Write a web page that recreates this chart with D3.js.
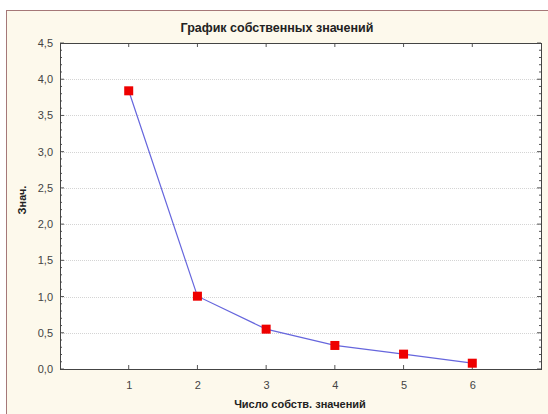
<!DOCTYPE html>
<html>
<head>
<meta charset="utf-8">
<script src="https://cdn.jsdelivr.net/npm/d3@7"></script>
<style>
  body { margin: 0; background: #fff; }
  text { font-family: "Liberation Sans", Arial, sans-serif; }
</style>
</head>
<body>
<svg width="548" height="414"></svg>
<script>
// eigenvalue numbers and values
const factors = [1, 2, 3, 4, 5, 6]
const eigenvalues = [3.84, 1.005, 0.55, 0.325, 0.205, 0.08]
const yTicks = [0, 0.5, 1, 1.5, 2, 2.5, 3, 3.5, 4, 4.5]

const title = 'График собственных значений'
const xTitle = 'Число собств. значений'
const yTitle = 'Знач.'

let svg = d3.select('svg'),
    width = +svg.attr('width'),
    height = +svg.attr('height')

let margin = {left: 60, top: 43, right: 7, bottom: 45}
let pw = width - margin.left - margin.right,
    ph = height - margin.top - margin.bottom

// outer frame
svg.append('rect')
    .attr('x', 6.5).attr('y', 10.5)
    .attr('width', width).attr('height', height)
    .attr('fill', '#fdf9ec')
    .attr('stroke', '#a57878')

let x = d3.scaleLinear().domain([0, 7]).range([0, pw])
let y = d3.scaleLinear().domain([0, 4.5]).range([ph, 0])

let g = svg.append('g').attr('transform', `translate(${margin.left},${margin.top})`)

g.append('rect').attr('width', pw).attr('height', ph).attr('fill', '#fff')

// dotted grid
g.selectAll('.grid').data(yTicks.slice(1, -1)).enter().append('line')
    .attr('x1', 0).attr('x2', pw)
    .attr('y1', d => Math.round(y(d)) + 0.5).attr('y2', d => Math.round(y(d)) + 0.5)
    .attr('stroke', '#d4d4d4')
    .attr('stroke-dasharray', '1,1')

let fmt = d => d3.format('.1f')(d).replace('.', ',')

// left axis: labels + major/minor ticks pointing inward
let yAxis = g.append('g')
yAxis.call(d3.axisLeft(y).tickValues(yTicks).tickFormat(fmt).tickSize(0).tickPadding(7))
yAxis.select('.domain').remove()
yAxis.selectAll('text').attr('font-size', 11).attr('fill', '#444')

let minor = d3.range(0, 4.51, 0.1)
g.selectAll('.ml').data(minor).enter().append('line')
    .attr('x1', 0).attr('x2', (d, i) => i % 5 == 0 ? 4 : 2)
    .attr('y1', d => y(d)).attr('y2', d => y(d))
    .attr('stroke', '#555')
g.selectAll('.mr').data(minor).enter().append('line')
    .attr('x1', pw).attr('x2', (d, i) => pw - (i % 5 == 0 ? 4 : 2))
    .attr('y1', d => y(d)).attr('y2', d => y(d))
    .attr('stroke', '#555')

// bottom axis
let xAxis = g.append('g').attr('transform', `translate(0,${ph})`)
xAxis.call(d3.axisBottom(x).tickValues(factors).tickFormat(d3.format('d')).tickSize(0).tickPadding(12))
xAxis.select('.domain').remove()
xAxis.selectAll('text').attr('font-size', 11).attr('fill', '#444')

g.selectAll('.xt').data(factors).enter().append('line')
    .attr('x1', d => x(d)).attr('x2', d => x(d))
    .attr('y1', ph).attr('y2', ph - 4).attr('stroke', '#555')
g.selectAll('.xtt').data(factors).enter().append('line')
    .attr('x1', d => x(d)).attr('x2', d => x(d))
    .attr('y1', 0).attr('y2', 4).attr('stroke', '#555')

// plot border
g.append('rect').attr('x', 0.5).attr('y', 0.5).attr('width', pw).attr('height', ph)
    .attr('fill', 'none').attr('stroke', '#444')

let pts = factors.map((f, i) => [f, eigenvalues[i]])

g.append('path')
    .datum(pts)
    .attr('d', d3.line().x(d => x(d[0])).y(d => y(d[1])))
    .attr('fill', 'none')
    .attr('stroke', '#6666dd')
    .attr('stroke-width', 1.2)

g.selectAll('.pt').data(pts).enter().append('rect')
    .attr('x', d => x(d[0]) - 4.5).attr('y', d => y(d[1]) - 4.5)
    .attr('width', 9).attr('height', 9)
    .attr('fill', '#ee0000')

svg.append('text')
    .attr('x', 277).attr('y', 32)
    .attr('text-anchor', 'middle')
    .attr('font-size', 12.5).attr('font-weight', 'bold').attr('fill', '#222')
    .text(title)

svg.append('text')
    .attr('x', 300).attr('y', 408)
    .attr('text-anchor', 'middle')
    .attr('font-size', 11).attr('font-weight', 'bold').attr('fill', '#222')
    .text(xTitle)

svg.append('text')
    .attr('transform', 'translate(26,200) rotate(-90)')
    .attr('text-anchor', 'middle')
    .attr('font-size', 11).attr('font-weight', 'bold').attr('fill', '#222')
    .text(yTitle)
</script>
</body>
</html>
